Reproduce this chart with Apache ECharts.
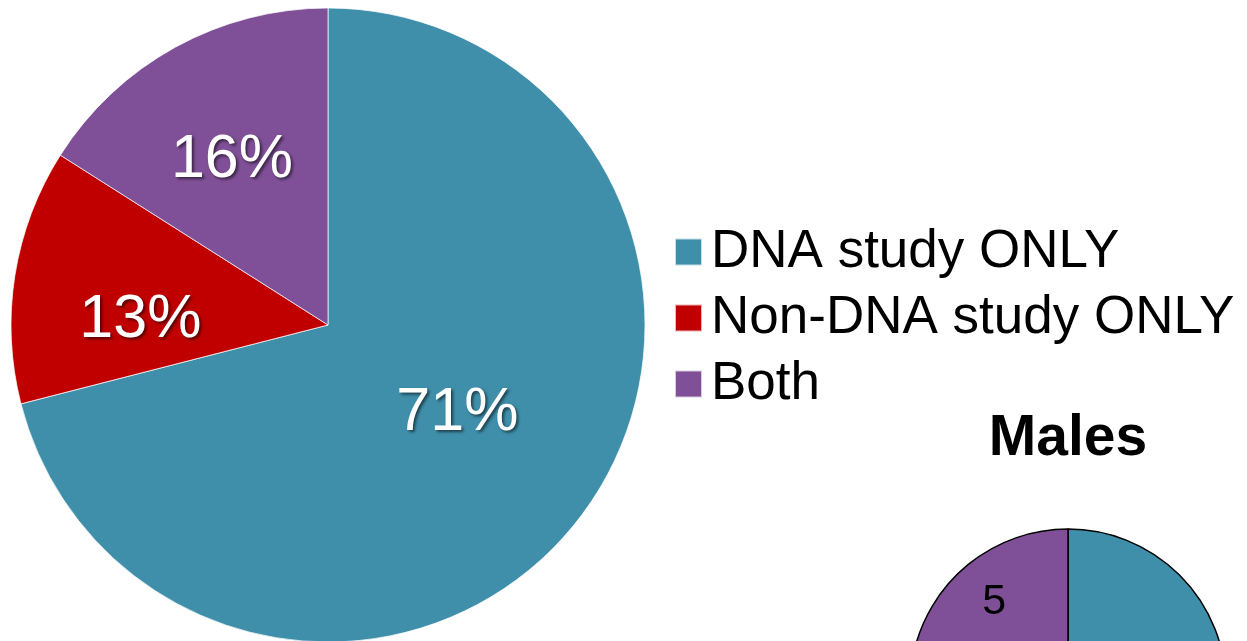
<!DOCTYPE html>
<html>
<head>
<meta charset="utf-8">
<title>Study participation</title>
<script src="https://cdn.jsdelivr.net/npm/echarts@6/dist/echarts.min.js"></script>
<style>
  html, body { margin: 0; padding: 0; background: #ffffff; }
  #chart { width: 1247px; height: 641px; }
</style>
</head>
<body>
<div id="chart"></div>
<script>
// Participation groups and their shares
const categories = ['DNA study ONLY', 'Non-DNA study ONLY', 'Both'];
const overallPercent = [71, 13, 16];
// Counts for the male subgroup
const maleCounts = [15, 3, 5];
const maleTitle = 'Males';

const colors = ['#3F8FAA', '#C00000', '#7F5097'];
const FONT = '"Liberation Sans", Arial, sans-serif';

const toItems = vals => categories.map((name, i) => ({ name, value: vals[i] }));

const chart = echarts.init(document.getElementById('chart'), null, { renderer: 'canvas' });

const bigCenter = [328, 325];
const bigRadius = 317;
const smallCenter = [1068, 687];
const smallRadius = 158;

chart.setOption({
  animation: false,
  color: colors,
  title: {
    text: maleTitle,
    left: 1068,
    top: 411,
    padding: 0,
    textAlign: 'center',
    textStyle: { fontFamily: FONT, fontSize: 57, fontWeight: 'bold', color: '#000' }
  },
  legend: {
    orient: 'vertical',
    left: 674,
    top: 224,
    padding: 0,
    itemWidth: 27,
    itemHeight: 27,
    itemGap: 10,
    icon: 'rect',
    data: categories,
    textStyle: { fontFamily: FONT, fontSize: 53, color: '#000', lineHeight: 56, padding: [0, 0, 0, 4] }
  },
  series: [
    {
      type: 'pie',
      center: bigCenter,
      radius: bigRadius,
      startAngle: 90,
      clockwise: true,
      silent: true,
      data: toItems(overallPercent),
      itemStyle: { borderColor: 'rgba(255,255,255,0.7)', borderWidth: 1 },
      label: { show: false },
      labelLine: { show: false }
    },
    {
      // transparent ring that carries the percentage labels
      type: 'pie',
      center: bigCenter,
      radius: 372,
      startAngle: 90,
      clockwise: true,
      silent: true,
      data: toItems(overallPercent),
      itemStyle: { color: 'rgba(0,0,0,0)', borderWidth: 0 },
      labelLine: { show: false },
      label: {
        show: true,
        position: 'inside',
        formatter: p => p.value + '%',
        fontFamily: FONT,
        fontSize: 61,
        color: '#ffffff',
        textShadowColor: 'rgba(0,0,0,0.55)',
        textShadowBlur: 3,
        textShadowOffsetX: 2,
        textShadowOffsetY: 2
      },
      labelLayout: p => {
        const nudge = [[-20, -28], [-1, 25], [-5, 1]];
        return { dx: nudge[p.dataIndex][0], dy: nudge[p.dataIndex][1] };
      }
    },
    {
      type: 'pie',
      center: smallCenter,
      radius: smallRadius,
      startAngle: 90,
      clockwise: true,
      silent: true,
      data: toItems(maleCounts),
      itemStyle: { borderColor: '#000000', borderWidth: 1.5 },
      label: { show: false },
      labelLine: { show: false }
    },
    {
      type: 'pie',
      center: smallCenter,
      radius: 228,
      startAngle: 90,
      clockwise: true,
      silent: true,
      data: toItems(maleCounts),
      itemStyle: { color: 'rgba(0,0,0,0)', borderWidth: 0 },
      labelLine: { show: false },
      label: {
        show: true,
        position: 'inside',
        formatter: p => String(p.value),
        fontFamily: FONT,
        fontSize: 43,
        color: '#000000'
      },
      labelLayout: () => ({ dy: 6 })
    }
  ]
});
</script>
</body>
</html>
